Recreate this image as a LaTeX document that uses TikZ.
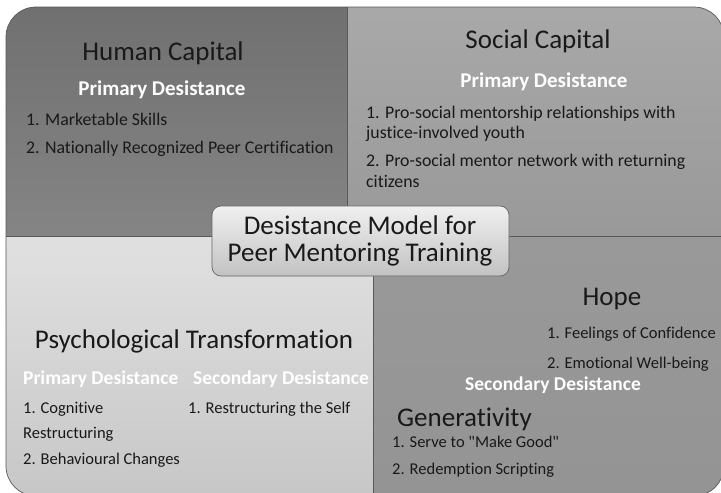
\documentclass[tikz,border=0pt]{standalone}
\usepackage{fontspec}
\setmainfont{Carlito}[Ligatures={NoCommon}]
\begin{document}
\begin{tikzpicture}[x=1pt,y=-1pt,
  title/.style={inner sep=0pt,text height=17.4pt,text depth=0pt,font=\fontsize{27}{30}\selectfont,text=black!90},
  sub/.style={inner sep=0pt,text height=12.6pt,text depth=0pt,font=\fontsize{19.5}{22}\selectfont\bfseries,text=white},
  bigsub/.style={sub,text height=13.5pt,font=\fontsize{21}{24}\selectfont\bfseries},
  item/.style={inner sep=0pt,text height=11.5pt,text depth=0pt,font=\fontsize{17.8}{20}\selectfont,text=black!90,anchor=west},
  smallitem/.style={item,text height=10.6pt,font=\fontsize{16.5}{19}\selectfont},
  edge/.style={draw=black!65,line width=0.7pt}]
\useasboundingbox (0,0) rectangle (721,493);
\fill[white] (0,0) rectangle (721,493);
\begin{scope}
\clip[rounded corners=30pt] (6,7) rectangle (724,496);
\shade[top color=black!56,bottom color=black!48] (6,7) rectangle (347,236);
\shade[top color=black!34,bottom color=black!40] (347,7) rectangle (724,236);
\shade[top color=black!12,bottom color=black!22] (6,236) rectangle (373,496);
\shade[top color=black!40,bottom color=black!42] (373,236) rectangle (724,496);
\draw[edge] (347,7) -- (347,236);
\draw[edge] (6,236) -- (724,236);
\draw[edge] (373,236) -- (373,496);
\end{scope}
\draw[edge,rounded corners=30pt] (6,7) rectangle (724,496);
% centre box
\node[draw=black!60,line width=0.7pt,rounded corners=9pt,top color=black!6,bottom color=black!24,
  minimum width=297pt,minimum height=70pt,inner sep=0pt] (centre) at (360.5,241) {};
\node[title] (c1) at (360,226) {Desistance Model for};
\node[title] (c2) at (360,253) {Peer Mentoring Training};
% top left
\node[title] (hc) at (163,52) {Human Capital};
\node[bigsub] (hcp) at (162,89) {Primary Desistance};
\node[item] (hc1) at (26,120) {1. Marketable Skills};
\node[item] (hc2) at (26,148) {2. Nationally Recognized Peer Certification};
% top right
\node[title] (sc) at (538,40) {Social Capital};
\node[bigsub] (scp) at (544,81) {Primary Desistance};
\node[item] (sc1) at (366,113) {1. Pro-social mentorship relationships with};
\node[item] (sc1b) at (366,133) {justice-involved youth};
\node[item] (sc2) at (366,161) {2. Pro-social mentor network with returning};
\node[item] (sc2b) at (366,182) {citizens};
% bottom left
\node[title] (pt) at (194,340) {Psychological Transformation};
\node[sub,anchor=west] (ptp) at (23,378) {Primary Desistance};
\node[sub,anchor=west] (pts) at (193,378) {Secondary Desistance};
\node[smallitem] (pt1) at (23,408) {1. Cognitive};
\node[smallitem] (pt1b) at (23,433) {Restructuring};
\node[smallitem] (pt2) at (23,459) {2. Behavioural Changes};
\node[smallitem] (pts1) at (188,408) {1. Restructuring the Self};
% bottom right
\node[title] (hope) at (612,297) {Hope};
\node[smallitem] (h1) at (547,333) {1. Feelings of Confidence};
\node[smallitem] (h2) at (547,363) {2. Emotional Well-being};
\node[sub] (brs) at (553,384) {Secondary Desistance};
\node[title,anchor=west] (gen) at (397,418) {Generativity};
\node[smallitem] (g1) at (392,442) {1. Serve to \textquotedbl Make Good\textquotedbl};
\node[smallitem] (g2) at (392,469) {2. Redemption Scripting};
\end{tikzpicture}
\end{document}
